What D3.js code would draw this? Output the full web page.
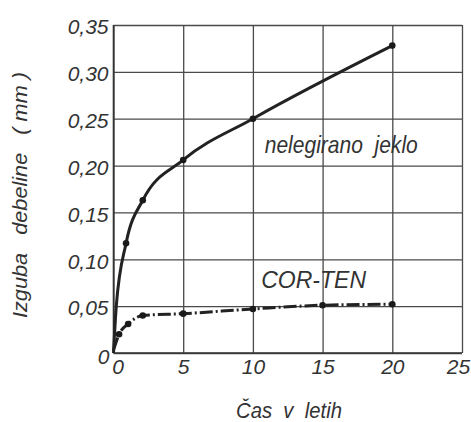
<!DOCTYPE html>
<html>
<head>
<meta charset="utf-8">
<script src="https://cdn.jsdelivr.net/npm/d3@7"></script>
<style>
    html, body { margin: 0; padding: 0; background: #fff; }
    svg text { font-family: "Liberation Sans", Arial, sans-serif; font-style: italic; fill: #333; white-space: pre; }
    .grid line { stroke: #4a4a4a; stroke-width: 1.3; }
</style>
</head>
<body>
<svg id="chart" width="471" height="422"></svg>
<script>
/* =====
   DATA
==== */

const xTicks = [0, 5, 10, 15, 20, 25];
const yTicks = [0, 0.05, 0.10, 0.15, 0.20, 0.25, 0.30, 0.35];

// nelegirano jeklo (plain carbon steel)
const steelYears = [0, 0.2, 0.9, 2.1, 5, 10, 20];
const steelLoss  = [0, 0.05, 0.117, 0.163, 0.206, 0.250, 0.328];
const steelMarked = [0.9, 2.1, 5, 10, 20];

// COR-TEN weathering steel
const cortenYears = [0, 0.4, 1.05, 2.1, 5, 10, 15, 20];
const cortenLoss  = [0.003, 0.020, 0.031, 0.040, 0.042, 0.047, 0.051, 0.052];
const cortenMarked = [0.4, 1.05, 2.1, 5, 10, 15, 20];

/* =====
   SETUP
==== */

const svg = d3.select("#chart");
const margin = { top: 25, right: 9, bottom: 69, left: 113.5 };
const width = 471 - margin.left - margin.right;
const height = 422 - margin.top - margin.bottom;

const g = svg.append("g")
    .attr("transform", `translate(${margin.left},${margin.top})`);

const x = d3.scaleLinear().domain([0, 25]).range([0, width]);
const y = d3.scaleLinear().domain([0, 0.35]).range([height, 0]);

const fmt = d3.formatLocale({ decimal: ",", thousands: ".", grouping: [3], currency: ["", ""] }).format(".2f");

/* =====
   GRID + AXES
==== */

const xAxis = g.append("g")
    .attr("class", "grid")
    .attr("transform", `translate(0,${height})`)
    .call(d3.axisBottom(x).tickValues(xTicks).tickSize(-height).tickPadding(5).tickFormat(d => d));

const yAxis = g.append("g")
    .attr("class", "grid")
    .call(d3.axisLeft(y).tickValues(yTicks).tickSize(-width).tickPadding(5)
        .tickFormat(d => d === 0 ? "0" : fmt(d)));

xAxis.select(".domain").remove();
yAxis.select(".domain").remove();

xAxis.selectAll("text").style("font-size", "21px").attr("dy", "0.74em");
xAxis.selectAll(".tick").filter(d => d === 0).select("text").attr("dx", 4);
xAxis.selectAll(".tick").filter(d => d === 25).select("text").attr("dx", -4);
yAxis.selectAll("text").style("font-size", "21px").attr("dy", "0.42em");
yAxis.selectAll(".tick").filter(d => d === 0).select("text").attr("dy", "0.5em").attr("dx", 1);

// frame (left + bottom axis lines slightly heavier)
g.append("line").attr("x1", 0).attr("x2", 0).attr("y1", 0).attr("y2", height)
    .attr("stroke", "#333").attr("stroke-width", 1.6);
g.append("line").attr("x1", 0).attr("x2", width).attr("y1", height).attr("y2", height)
    .attr("stroke", "#333").attr("stroke-width", 1.6);

/* =====
   SERIES
==== */

const line = d3.line()
    .x(d => x(d[0]))
    .y(d => y(d[1]))
    .curve(d3.curveMonotoneX);

const steel = steelYears.map((t, i) => [t, steelLoss[i]]);
const corten = cortenYears.map((t, i) => [t, cortenLoss[i]]);

g.append("path")
    .datum(steel)
    .attr("d", line)
    .attr("fill", "none")
    .attr("stroke", "#222")
    .attr("stroke-width", 3);

g.append("path")
    .datum(corten)
    .attr("d", line)
    .attr("fill", "none")
    .attr("stroke", "#222")
    .attr("stroke-width", 3)
    .attr("stroke-dasharray", "13,3,2,3");

g.selectAll(".steel-pt")
    .data(steel.filter(d => steelMarked.includes(d[0])))
    .enter()
    .append("circle")
    .attr("cx", d => x(d[0]))
    .attr("cy", d => y(d[1]))
    .attr("r", 3.3)
    .attr("fill", "#1a1a1a");

g.selectAll(".corten-pt")
    .data(corten.filter(d => cortenMarked.includes(d[0])))
    .enter()
    .append("circle")
    .attr("cx", d => x(d[0]))
    .attr("cy", d => y(d[1]))
    .attr("r", 3.3)
    .attr("fill", "#1a1a1a");

/* =====
   LABELS
==== */

g.append("text")
    .attr("x", x(10.85))
    .attr("y", y(0.2135))
    .style("font-size", "24px")
    .attr("textLength", 153)
    .attr("lengthAdjust", "spacingAndGlyphs")
    .text("nelegirano  jeklo");

g.append("text")
    .attr("x", x(10.6))
    .attr("y", y(0.0695))
    .style("font-size", "23px")
    .text("COR-TEN");

// y axis title
svg.append("text")
    .attr("transform", "translate(27,195) rotate(-90)")
    .attr("text-anchor", "middle")
    .style("font-size", "20px")
    .attr("textLength", 246)
    .attr("lengthAdjust", "spacingAndGlyphs")
    .text("Izguba   debeline   ( mm )");

// x axis title (the scan crops it at the bottom; kept fully inside here)
svg.append("text")
    .attr("x", 289)
    .attr("y", 418)
    .attr("text-anchor", "middle")
    .style("font-size", "22px")
    .attr("textLength", 106)
    .attr("lengthAdjust", "spacingAndGlyphs")
    .text("Čas  v  letih");
</script>
</body>
</html>
